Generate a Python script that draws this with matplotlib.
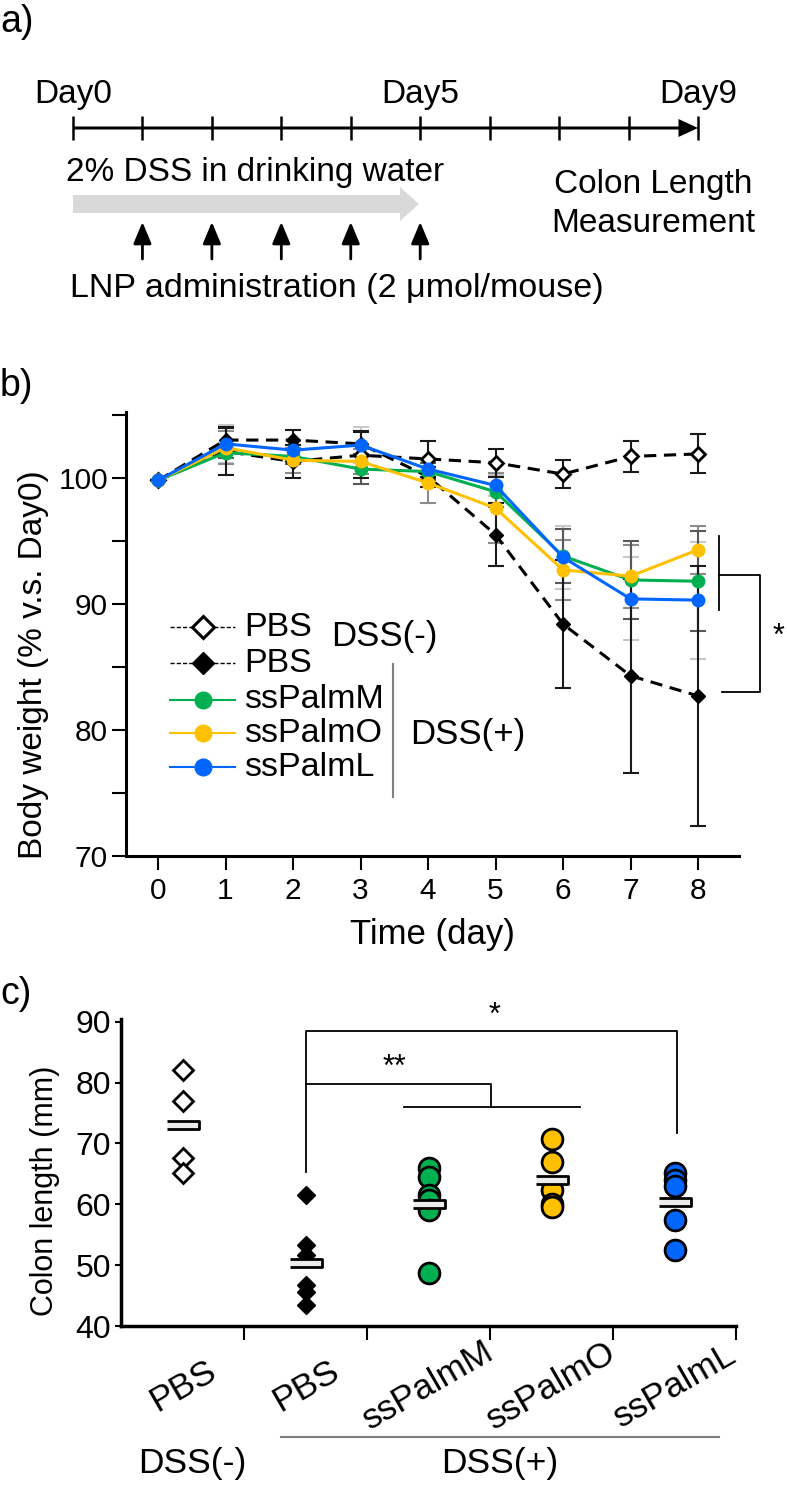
import numpy as np
import matplotlib
matplotlib.use('Agg')
import matplotlib.pyplot as plt
from matplotlib.patches import FancyArrow
from matplotlib.lines import Line2D

plt.rcParams['font.family'] = ['Liberation Sans', 'DejaVu Sans']

# ---------------- data ----------------
# a) timeline
timeline_days = np.arange(0, 10)
day_labels = {0: 'Day0', 5: 'Day5', 9: 'Day9'}
lnp_days = [1, 2, 3, 4, 5]

# b) body weight (% v.s. Day0), mean and SD
time_day = np.arange(0, 9)
pbs_neg_mean = [99.8, 102.1, 101.3, 101.8, 101.5, 101.2, 100.3, 101.7, 101.9]
pbs_neg_sd = [0, 1.85, 1.3, 1.8, 1.4, 1.1, 1.1, 1.25, 1.55]
pbs_pos_mean = [99.8, 103.0, 103.0, 102.7, 100.1, 95.5, 88.4, 84.3, 82.7]
pbs_pos_sd = [0, 1.0, 0.8, 1.0, 0.8, 2.5, 5.1, 7.7, 10.3]
palmM_mean = [99.8, 102.0, 101.7, 100.7, 100.5, 98.9, 93.8, 91.9, 91.8]
palmM_sd = [0, 0.4, 0.6, 1.2, 0.7, 1.2, 2.15, 3.1, 3.95]
palmO_mean = [99.8, 102.4, 101.4, 101.3, 99.6, 97.6, 92.7, 92.2, 94.3]
palmO_sd = [0, 1.3, 1.0, 1.0, 1.6, 2.8, 2.4, 2.5, 1.9]
palmL_mean = [99.8, 102.7, 102.2, 102.6, 100.7, 99.4, 93.7, 90.4, 90.3]
palmL_sd = [0, 1.5, 0.8, 1.4, 0.8, 0.8, 2.5, 3.3, 4.65]

# c) colon length (mm)
group_labels = ['PBS', 'PBS', 'ssPalmM', 'ssPalmO', 'ssPalmL']
colon_pbs_neg = [82.1, 77.0, 67.6, 65.1]
colon_pbs_pos = [61.5, 53.3, 51.7, 46.7, 45.6, 43.4]
colon_palmM = [66.0, 64.5, 61.5, 60.7, 59.1, 48.7]
colon_palmO = [70.8, 67.0, 62.3, 60.0, 59.6]
colon_palmL = [65.1, 64.0, 63.0, 57.4, 52.5]

green = '#00b050'
yellow = '#ffc000'
blue = '#0066ff'

fig = plt.figure(figsize=(7.87, 14.86), dpi=100)
W, H = 787.0, 1486.0

# ---------------- a) ----------------
ax_a = fig.add_axes([0, 1 - 330 / H, 1, 330 / H])
ax_a.set_xlim(-73 / 69.44, (W - 73) / 69.44)
ax_a.set_ylim(330, 0)
ax_a.axis('off')

ax_a.add_patch(FancyArrow(0, 128, 9, 0, width=3, head_width=18, head_length=0.28,
                          length_includes_head=True, color='k', lw=0))
ax_a.vlines(timeline_days, 116, 140, color='k', lw=1.8)
for d, lab in day_labels.items():
    ax_a.text(d, 95, lab, ha='center', va='center', fontsize=24)

ax_a.add_patch(FancyArrow(0, 204, 4.98, 0, width=18, head_width=34, head_length=0.27,
                          length_includes_head=True, color='#d9d9d9', lw=0))
ax_a.text(2.62, 172, '2% DSS in drinking water', ha='center', va='center', fontsize=24)
for d in lnp_days:
    ax_a.annotate('', xy=(d, 222), xytext=(d, 259),
                  arrowprops=dict(arrowstyle='-|>,head_length=0.6,head_width=0.25',
                                  color='k', lw=2, shrinkA=0, shrinkB=0, mutation_scale=22))
ax_a.text(3.8, 288, 'LNP administration (2 μmol/mouse)', ha='center', va='center', fontsize=24.5)
ax_a.text(8.35, 184, 'Colon Length', ha='center', va='center', fontsize=24)
ax_a.text(8.35, 224, 'Measurement', ha='center', va='center', fontsize=24)

fig.text(0.0, 1 - 22 / H, 'a)', fontsize=27, va='center')
fig.text(0.0, 1 - 386 / H, 'b)', fontsize=27, va='center')
fig.text(0.0, 1 - 994 / H, 'c)', fontsize=27, va='center')

# ---------------- b) ----------------
ax_b = fig.add_axes([126 / W, (H - 856) / H, 613 / W, 444.3 / H])

eb = dict(fmt='none', elinewidth=1.5, capsize=6, capthick=1.5)
ax_b.errorbar(time_day, palmL_mean, yerr=palmL_sd, ecolor='#c8c8c8', zorder=2, **eb)
ax_b.errorbar(time_day, palmO_mean, yerr=palmO_sd, ecolor='#8c8c8c', zorder=2, **eb)
ax_b.errorbar(time_day, palmM_mean, yerr=palmM_sd, ecolor='#595959', zorder=2, **eb)
ax_b.errorbar(time_day, pbs_pos_mean, yerr=pbs_pos_sd, ecolor='#1a1a1a', zorder=2, **eb)
ax_b.errorbar(time_day, pbs_neg_mean, yerr=pbs_neg_sd, ecolor='#1a1a1a', zorder=2, **eb)

ax_b.plot(time_day, pbs_pos_mean, color='k', ls='--', dashes=(4, 2.5), lw=2.2,
          marker='D', ms=7, mfc='k', mec='k', zorder=3)
ax_b.plot(time_day, pbs_neg_mean, color='k', ls='--', dashes=(4, 2.5), lw=2.2,
          marker='D', ms=7.5, mfc='white', mec='k', mew=2, zorder=3)
ax_b.plot(time_day, palmM_mean, color=green, lw=2.2, marker='o', ms=9, zorder=4)
ax_b.plot(time_day, palmO_mean, color=yellow, lw=2.2, marker='o', ms=9, zorder=4)
ax_b.plot(time_day, palmL_mean, color=blue, lw=2.2, marker='o', ms=9, zorder=4)

ax_b.set_xlim(-0.474, 8.607)
ax_b.set_ylim(70, 105.25)
ax_b.set_xticks(time_day)
ax_b.set_yticks([70, 80, 90, 100])
ax_b.set_yticks([75, 85, 95, 105], minor=True)
for s in ['top', 'right']:
    ax_b.spines[s].set_visible(False)
for s in ['left', 'bottom']:
    ax_b.spines[s].set_linewidth(2.2)
ax_b.tick_params(axis='both', which='both', direction='out', length=10, width=1.5,
                 labelsize=21.5)
ax_b.tick_params(axis='y', pad=3)
ax_b.tick_params(axis='x', pad=5)
ax_b.set_xlabel('Time (day)', fontsize=25)
ax_b.xaxis.set_label_coords(0.5, -0.14)
ax_b.set_ylabel('Body weight (% v.s. Day0)', fontsize=24)
ax_b.yaxis.set_label_coords(-0.125, 0.43)

# legend (drawn by hand so rows sit where the reference puts them)
leg_rows_y = [627, 663, 700, 733, 767]
leg_line_styles = [
    dict(color='k', ls='--', dashes=(3, 1.5), lw=1),
    dict(color='k', ls='--', dashes=(3, 1.5), lw=1),
    dict(color=green, lw=1.5),
    dict(color=yellow, lw=1.5),
    dict(color=blue, lw=1.5),
]
leg_marker_styles = [
    dict(marker='D', ms=11.5, mfc='white', mec='k', mew=2.2),
    dict(marker='D', ms=11, mfc='k', mec='k'),
    dict(marker='o', ms=12, mfc=green, mec=green),
    dict(marker='o', ms=12, mfc=yellow, mec=yellow),
    dict(marker='o', ms=12, mfc=blue, mec=blue),
]
leg_labels = ['PBS', 'PBS', 'ssPalmM', 'ssPalmO', 'ssPalmL']
for yy, ls_kw, mk_kw, lab in zip(leg_rows_y, leg_line_styles, leg_marker_styles, leg_labels):
    yf = 1 - yy / H
    fig.add_artist(Line2D([170 / W, 235 / W], [yf, yf], transform=fig.transFigure, **ls_kw))
    fig.add_artist(Line2D([203 / W], [yf], transform=fig.transFigure, ls='none', **mk_kw))
    fig.text(244 / W, yf, lab, ha='left', va='center', fontsize=24.5)

ax_b.text(3.36, 87.4, 'DSS(-)', ha='center', va='center', fontsize=25)
ax_b.plot([3.48, 3.48], [85.2, 74.7], color='#7f7f7f', lw=1.5)
ax_b.text(4.59, 79.6, 'DSS(+)', ha='center', va='center', fontsize=25)

# significance
ax_b.plot([8.31, 8.31], [95.4, 89.5], color='k', lw=1.3, clip_on=False)
ax_b.plot([8.31, 8.92, 8.92, 8.36], [92.3, 92.3, 83.0, 83.0], color='k', lw=1.3,
          clip_on=False)
ax_b.text(9.19, 87.4, '*', ha='center', va='center', fontsize=22, clip_on=False)

# ---------------- c) ----------------
ax_c = fig.add_axes([121 / W, 160 / H, 615 / W, 307.3 / H])
colon_groups = [colon_pbs_neg, colon_pbs_pos, colon_palmM, colon_palmO, colon_palmL]
pos = np.arange(len(colon_groups))

ax_c.plot(np.full(len(colon_pbs_neg), pos[0]), colon_pbs_neg, ls='none', marker='D', ms=10,
          mfc='white', mec='k', mew=2, zorder=3)
ax_c.plot(np.full(len(colon_pbs_pos), pos[1]), colon_pbs_pos, ls='none', marker='D', ms=9.5,
          mfc='k', mec='k', zorder=3)
for i, vals, c in [(2, colon_palmM, green), (3, colon_palmO, yellow), (4, colon_palmL, blue)]:
    ax_c.plot(np.full(len(vals), pos[i]), vals, ls='none', marker='o', ms=15, mfc=c,
              mec='k', mew=2, zorder=3)

bar_marker = [(-1, -0.22), (1, -0.22), (1, 0.22), (-1, 0.22)]
ax_c.plot(pos, [np.mean(v) for v in colon_groups], ls='none', marker=bar_marker, ms=23,
          mfc='#ececec', mec='k', mew=2, zorder=4)

ax_c.set_xlim(-0.5, 4.5)
ax_c.set_ylim(40, 90.5)
ax_c.set_yticks(np.arange(40, 91, 10))
ax_c.set_xticks(pos)
ax_c.set_xticklabels(group_labels, rotation=30, ha='center', va='center', fontsize=25.5)
ax_c.set_xticks(list(pos[:-1] + 0.5) + [4.5], minor=True)
ax_c.tick_params(axis='x', which='major', length=0, pad=43)
ax_c.tick_params(axis='x', which='minor', length=10, width=1.5, direction='out')
ax_c.tick_params(axis='y', length=4, width=1.5, direction='out', labelsize=23, pad=3)
for s in ['top', 'right']:
    ax_c.spines[s].set_visible(False)
for s in ['left', 'bottom']:
    ax_c.spines[s].set_linewidth(2.5)
ax_c.set_ylabel('Colon length (mm)', fontsize=22)
ax_c.yaxis.set_label_coords(-0.099, 0.44)

xt = ax_c.get_xaxis_transform()
ax_c.plot([0.80, 4.36], [-0.361, -0.361], color='#7f7f7f', lw=1.5, transform=xt, clip_on=False)
ax_c.text(0.08, -0.446, 'DSS(-)', ha='center', va='center', fontsize=25.5, transform=xt)
ax_c.text(2.58, -0.446, 'DSS(+)', ha='center', va='center', fontsize=25.5, transform=xt)

# significance
ax_c.plot([1, 1, 4.02, 4.02], [65.3, 88.5, 88.5, 71.7], color='k', lw=1.3, clip_on=False)
ax_c.plot([1, 2.51, 2.51], [79.7, 79.7, 76.0], color='k', lw=1.3)
ax_c.plot([1.8, 3.23], [76.0, 76.0], color='k', lw=1.3)
ax_c.text(2.54, 91.0, '*', ha='center', va='center', fontsize=22, clip_on=False)
ax_c.text(1.72, 82.4, '**', ha='center', va='center', fontsize=22)

fig.savefig('out.png', dpi=100)
